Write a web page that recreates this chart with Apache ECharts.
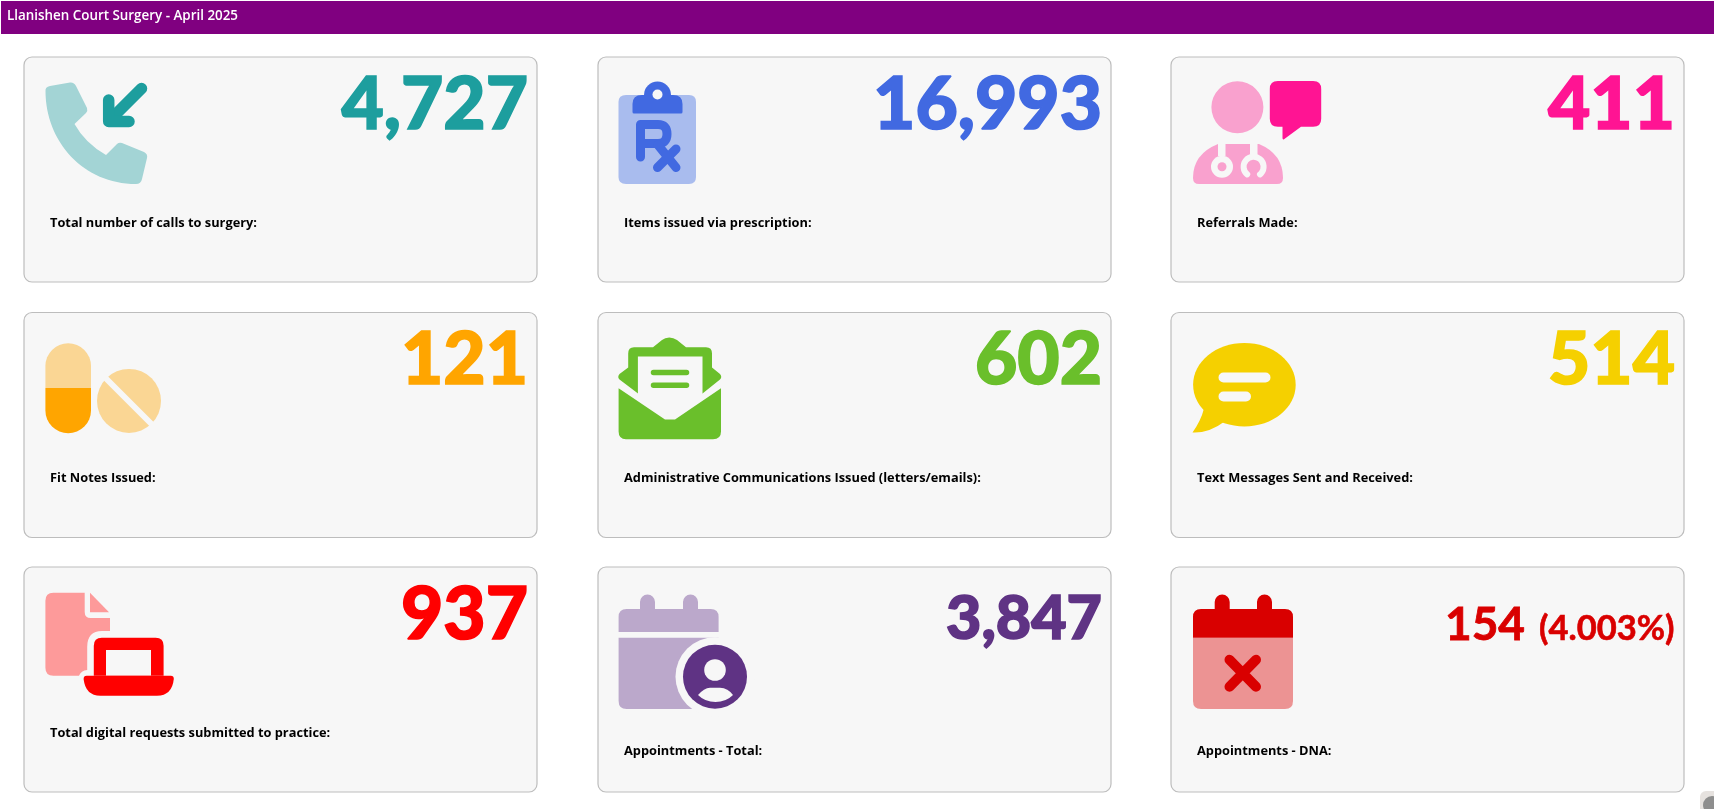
<!DOCTYPE html>
<html>
<head>
<meta charset="utf-8">
<title>Llanishen Court Surgery - April 2025</title>
<script src="https://cdn.jsdelivr.net/npm/echarts@6/dist/echarts.min.js"></script>
<style>
  html, body { margin: 0; padding: 0; background: #fff; }
  #chart { width: 1714px; height: 809px; }
</style>
</head>
<body>
<div id="chart"></div>
<script>
const pageTitle = "Llanishen Court Surgery - April 2025";
const kpiLabels = [
  "Total number of calls to surgery:",
  "Items issued via prescription:",
  "Referrals Made:",
  "Fit Notes Issued:",
  "Administrative Communications Issued (letters/emails):",
  "Text Messages Sent and Received:",
  "Total digital requests submitted to practice:",
  "Appointments - Total:",
  "Appointments - DNA:"
];
const kpiValues = [4727, 16993, 411, 121, 602, 514, 937, 3847, 154];
const dnaPercent = "(4.003%)";
const kpiColors = ["#1D9E9E", "#4169E1", "#FF1493", "#FFA500", "#6ABF2B", "#F5D000", "#FF0000", "#5F3384", "#D90000"];
const kpiLightColors = ["#A3D4D5", "#A9BCEE", "#F9A1CE", "#FAD694", "#6ABF2B", "#F5D000", "#FD9A9A", "#BBA8CB", "#EC9393"];

const cardBg = "#F7F7F7";
const colX = [24, 598, 1171];
const rowY = [57, 312.5, 567];
const cardW = 513;
const cardH = 225;

function fillPath(d, fill) {
  return { type: "path", shape: { pathData: d }, style: { fill: fill } };
}
function strokePath(d, stroke, w) {
  return { type: "path", shape: { pathData: d },
    style: { fill: "none", stroke: stroke, lineWidth: w, lineCap: "round", lineJoin: "round" } };
}
function disc(cx, cy, r, fill) {
  return { type: "circle", shape: { cx: cx, cy: cy, r: r }, style: { fill: fill } };
}
function label(text, x, y, font, fill, align, heavy) {
  const style = { text: text, font: font, fill: fill,
    textAlign: align || "left", align: align || "left", verticalAlign: "middle", textVerticalAlign: "middle" };
  if (heavy) {
    // the reference digits are heavier than Lato Bold
    style.stroke = fill;
    style.lineWidth = heavy;
  }
  return { type: "text", x: x, y: y, style: style };
}
function calendarTop(left, right, ring1, ring2, fill) {
  // header band with the two binder rings
  return fillPath(
    "M" + left + ",65 V50 Q" + left + ",42 " + (left + 8) + ",42 H" + ring1 + " V35 A7.5,7.5 0 0 1 " + (ring1 + 15) + ",35 V42 H" + ring2 +
    " V35 A7.5,7.5 0 0 1 " + (ring2 + 15) + ",35 V42 H" + (right - 8) + " Q" + right + ",42 " + right + ",50 V65 Z", fill);
}

const icons = [
  // phone
  (c, l) => [
    fillPath("M21.5,34 Q21,30 26,29 L46,25.5 Q50,25 52,29 L63,51 Q64,54 62,56 L50.5,67 Q61,86 82,98 L93,87 Q95,85 98,86 L120,95 Q124,97 123,101 L118,122 Q117,127 112,127 C60,127 21.5,85 21.5,34 Z", l),
    strokePath("M117.5,31.5 L87,62", c, 11.5),
    strokePath("M84.7,43 V64.5 H105", c, 11.5)
  ],
  // prescription clipboard
  (c, l) => [
    fillPath("M28,38 H91 Q98,38 98,45 V120 Q98,127 91,127 H28 Q20.5,127 20.5,120 V45 Q20.5,38 28,38 Z", l),
    disc(59.5, 38, 13.5, c),
    fillPath("M34.5,55 V47 Q34.5,38 44,38 H75 Q84.5,38 84.5,47 V55 Q84.5,56.5 83,56.5 H36 Q34.5,56.5 34.5,55 Z", c),
    disc(59.5, 37.5, 5, cardBg),
    strokePath("M42.5,100 V67.5 H60 Q69,67.5 69,77 Q69,86.5 60,86.5 H42.5", c, 9),
    strokePath("M60,88 L78,110.5 M78,92 L59.5,110.5", c, 9)
  ],
  // doctor with speech bubble
  (c, l) => [
    disc(66.4, 50.3, 26, l),
    fillPath("M22,121 Q22,97 47,87 H88 Q112,97 112,121 Q112,127 106,127 H28 Q22,127 22,121 Z", l),
    fillPath("M47,86 H54.5 V99 H47 Z M79,86 H86.5 V99 H79 Z", cardBg),
    disc(51, 109.7, 11, cardBg),
    disc(51, 109.7, 4.5, l),
    { type: "arc", shape: { cx: 82.6, cy: 109.7, r: 10, startAngle: Math.PI * 0.72, endAngle: Math.PI * 0.28, clockwise: true },
      style: { fill: "none", stroke: cardBg, lineWidth: 6, lineCap: "round" } },
    fillPath("M106.8,24 H142.2 Q150.2,24 150.2,32 V61.7 Q150.2,69.7 142.2,69.7 H130 L113,82.3 Q111.5,83 111.5,81 V69.7 H106.8 Q98.8,69.7 98.8,61.7 V32 Q98.8,24 106.8,24 Z", c)
  ],
  // capsule and tablet
  (c, l) => [
    fillPath("M21.4,75.4 V53.5 A22.8,22.8 0 0 1 67,53.5 V75.4 Z", l),
    fillPath("M21.4,75.4 V97.9 A22.8,22.8 0 0 0 67,97.9 V75.4 Z", c),
    disc(105, 88.4, 32, l),
    strokePath("M74,58 L134,118", cardBg, 6)
  ],
  // open envelope
  (c) => [
    fillPath("M71.3,25 Q67,25 64,27.5 L55,34.7 H36 Q30.2,34.7 30.2,41 V55 L21.5,61.5 Q19,64.5 21.5,67 L40,81 H104.5 L122,67 Q124.5,64.5 122,61.5 L114,55 V41 Q114,34.7 108,34.7 H88 L79,27.5 Q75.5,25 71.3,25 Z", c),
    fillPath("M39.9,44 H104.5 V85 H39.9 Z", cardBg),
    fillPath("M20.6,75.7 L67,107 H77 L123,75.7 V119 Q123,126.7 115,126.7 H28 Q20.6,126.7 20.6,119 Z", c),
    strokePath("M55.5,60 H88.5 M55.5,72.7 H88.5", c, 5.5)
  ],
  // speech bubble
  (c) => [
    { type: "ellipse", shape: { cx: 73.4, cy: 72.3, rx: 51.3, ry: 41.7 }, style: { fill: c } },
    fillPath("M33,96 Q30,108 21.5,120 Q38,121 55,108 Z", c),
    strokePath("M52.5,65 H94.5 M52.5,84 H75", cardBg, 10)
  ],
  // document and laptop
  (c, l) => [
    fillPath("M29.4,25.7 H60.7 V45 Q60.7,51 66.7,51 H86 V64 H78 Q63.2,64 63.2,80 V103 Q57,103.5 55,108.7 H29.4 Q21.4,108.7 21.4,100.7 V33.7 Q21.4,25.7 29.4,25.7 Z", l),
    fillPath("M66,25.7 L85,45.3 H66 Z", l),
    fillPath("M77.8,70.7 H131.6 Q139.6,70.7 139.6,78.7 V108.7 H69.8 V78.7 Q69.8,70.7 77.8,70.7 Z", c),
    fillPath("M82,83 H127 V108.7 H82 Z", cardBg),
    fillPath("M62.6,108.7 H146.8 Q149.8,108.7 149.8,112 Q148,128.7 133,128.7 H76.4 Q61.5,128.7 59.6,112 Q59.6,108.7 62.6,108.7 Z", c)
  ],
  // calendar with person
  (c, l) => [
    calendarTop(20.6, 120.6, 42, 85, l),
    fillPath("M20.6,70.7 H120.6 V142 H28.6 Q20.6,142 20.6,134 Z", l),
    disc(117, 109.7, 39.5, cardBg),
    disc(117, 109.7, 32, c),
    disc(117, 103, 10.8, cardBg),
    fillPath("M100,128 Q106,121 112,120.7 H122 Q130,121 135,128 Q128,135 117.5,135 Q107,135 100,128 Z", cardBg)
  ],
  // calendar with cross
  (c, l) => [
    fillPath("M22,70.7 H122 V134 Q122,142 114,142 H30 Q22,142 22,134 Z", l),
    calendarTop(22, 122, 43.7, 86, c),
    fillPath("M22,65 H122 V70.7 H22 Z", c),
    strokePath("M58.5,92.8 L85,119.8 M85,92.8 L58.5,119.8", c, 10)
  ]
];

// big number font size, and y of its centre inside the card
const valueFonts = [73, 73, 73, 73, 73, 73, 73, 61, 46];
const valueMidY = [48, 48, 48, 48, 48, 48, 48.5, 52.5, 58.5];
const labelY = [166.2, 166.2, 166.2, 166.2, 166.2, 166.2, 166.5, 184.5, 184.5];

function renderCard(params) {
  const i = params.dataIndex;
  const children = [
    { type: "rect", shape: { x: 0, y: 0, width: cardW, height: cardH, r: 8 },
      style: { fill: cardBg, stroke: "#BDBDBD", lineWidth: 1.2 } }
  ].concat(icons[i](kpiColors[i], kpiLightColors[i]));

  const valueText = kpiValues[i].toLocaleString("en-GB");
  if (i === 8) {
    children.push(label(dnaPercent, 503.5, valueMidY[i] + 3, "700 34.5px Lato", kpiColors[i], "right", 0.6));
    children.push(label(valueText, 354, valueMidY[i], "700 " + valueFonts[i] + "px Lato", kpiColors[i], "right", 0.8));
  } else {
    children.push(label(valueText, 504, valueMidY[i], "900 " + valueFonts[i] + "px Lato", kpiColors[i], "right", 1.6));
  }
  children.push(label(kpiLabels[i], 26, labelY[i], "700 12.8px 'Open Sans'", "#000"));

  return { type: "group", x: colX[i % 3], y: rowY[Math.floor(i / 3)], children: children };
}

const chart = echarts.init(document.getElementById("chart"));
chart.setOption({
  backgroundColor: "#fff",
  animation: false,
  graphic: {
    elements: [
      { type: "rect", silent: true, shape: { x: 1, y: 1, width: 1713, height: 33 }, style: { fill: "#800080" } },
      { type: "text", silent: true, x: 7, y: 10, style: { text: pageTitle, font: "600 13.4px 'Open Sans'", fill: "#fff" } },
      // scrollbar thumb peeking in at the bottom right of the screenshot
      { type: "rect", silent: true, shape: { x: 1700, y: 791, width: 20, height: 24, r: 6 }, style: { fill: "#E6E2DF" } },
      { type: "circle", silent: true, shape: { cx: 1712, cy: 805, r: 9 }, style: { fill: "#8E8E8E" } }
    ]
  },
  series: [{
    type: "custom",
    coordinateSystem: "none",
    silent: true,
    data: kpiValues,
    renderItem: renderCard
  }]
});
</script>
</body>
</html>
